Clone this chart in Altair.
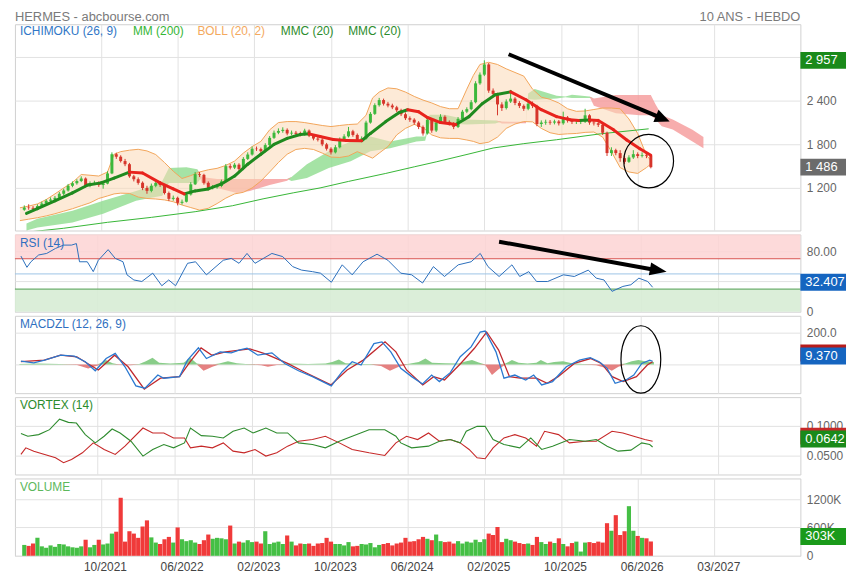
import altair as alt
import pandas as pd

# ---------------- texts / axis ----------------
TITLE_LEFT = "HERMES - abcbourse.com"
TITLE_RIGHT = "10 ANS - HEBDO"
X_TICKS = [37, 72, 107, 142, 177, 212, 247, 282, 317]
X_LABELS = ["10/2021", "06/2022", "02/2023", "10/2023", "06/2024",
            "02/2025", "10/2025", "06/2026", "03/2027"]
X_DOMAIN = [0, 354]

# ---------------- price candles (one every two weeks) ----------------
candle_w = list(range(2, 290, 2))
FIRST_OPEN = 900
candle_close = [930, 925, 914, 950, 985, 1023, 1040, 1064, 1120, 1165,
                1230, 1265, 1295, 1330, 1230, 1265, 1270, 1240, 1260, 1400,
                1664, 1630, 1570, 1527, 1360, 1320, 1270, 1200, 1160, 1230,
                1270, 1240, 1130, 1050, 1064, 995, 1010, 1110, 1250, 1390,
                1380, 1270, 1200, 1210, 1227, 1290, 1500, 1480, 1520, 1460,
                1600, 1660, 1740, 1735, 1705, 1790, 1890, 1960, 1985, 2000,
                1950, 1960, 1945, 1940, 1990, 1920, 1880, 1865, 1800, 1740,
                1690, 1760, 1870, 1910, 1980, 1930, 1865, 1880, 2100, 2220,
                2340, 2410, 2360, 2335, 2310, 2270, 2215, 2160, 2140, 2100,
                2040, 1950, 2140, 1990, 2100, 2180, 2110, 2086, 2040, 2150,
                2250, 2285, 2380, 2640, 2760, 2900, 2540, 2495, 2350, 2300,
                2390, 2430, 2370, 2330, 2290, 2360, 2330, 2080, 2100, 2110,
                2100, 2115, 2090, 2170, 2130, 2110, 2110, 2115, 2200, 2100,
                2090, 2070, 1960, 1680, 1720, 1680, 1610, 1560, 1620, 1665,
                1640, 1650, 1640, 1486]
candle_high = [960, 975, 950, 975, 1010, 1045, 1070, 1090, 1145, 1190,
               1255, 1290, 1320, 1360, 1345, 1290, 1300, 1290, 1285, 1430,
               1690, 1685, 1650, 1600, 1545, 1380, 1345, 1290, 1230, 1260,
               1300, 1295, 1255, 1150, 1095, 1080, 1040, 1135, 1280, 1420,
               1420, 1395, 1290, 1240, 1255, 1315, 1530, 1530, 1545, 1540,
               1625, 1690, 1770, 1770, 1755, 1815, 1915, 1990, 2020, 2035,
               2020, 1990, 1985, 1975, 2015, 2005, 1940, 1905, 1885, 1820,
               1760, 1790, 1895, 1940, 2040, 2000, 1950, 1910, 2125, 2245,
               2365, 2440, 2430, 2385, 2360, 2330, 2290, 2240, 2185, 2160,
               2120, 2060, 2165, 2160, 2130, 2215, 2200, 2130, 2105, 2175,
               2275, 2310, 2410, 2670, 2790, 2957, 2920, 2570, 2510, 2380,
               2420, 2550, 2450, 2395, 2350, 2385, 2390, 2345, 2130, 2140,
               2135, 2140, 2135, 2250, 2190, 2150, 2140, 2145, 2290, 2215,
               2130, 2115, 2085, 1975, 1760, 1740, 1720, 1640, 1650, 1720,
               1690, 1690, 1685, 1660]
candle_low = [885, 900, 890, 900, 935, 970, 1000, 1020, 1050, 1100,
              1150, 1210, 1245, 1280, 1205, 1210, 1240, 1215, 1190, 1250,
              1390, 1600, 1550, 1500, 1340, 1290, 1245, 1170, 1120, 1140,
              1210, 1215, 1110, 1020, 1025, 960, 970, 1000, 1095, 1240,
              1350, 1245, 1175, 1180, 1190, 1210, 1280, 1455, 1460, 1435,
              1445, 1585, 1645, 1710, 1680, 1690, 1775, 1875, 1940, 1960,
              1925, 1925, 1920, 1910, 1920, 1900, 1855, 1840, 1775, 1715,
              1660, 1675, 1745, 1850, 1895, 1905, 1840, 1840, 1865, 2085,
              2205, 2320, 2335, 2310, 2285, 2245, 2190, 2135, 2110, 2070,
              2010, 1920, 1935, 1960, 1970, 2085, 2085, 2060, 2010, 2025,
              2135, 2230, 2270, 2365, 2620, 2740, 2510, 2465, 2200, 2260,
              2280, 2370, 2340, 2300, 2260, 2270, 2300, 2050, 2040, 2070,
              2070, 2075, 2060, 2070, 2100, 2080, 2080, 2080, 2095, 2070,
              2060, 2040, 1930, 1640, 1640, 1650, 1560, 1530, 1545, 1600,
              1610, 1620, 1610, 1470]
volume_k = [230, 210, 260, 380, 200, 170, 220, 190, 250, 240,
            200, 180, 170, 200, 340, 180, 230, 340, 240, 260,
            470, 510, 1228, 300, 520, 470, 380, 620, 750, 390,
            280, 250, 350, 400, 280, 600, 350, 310, 330, 280,
            250, 330, 450, 360, 380, 370, 350, 640, 260, 300,
            280, 330, 290, 300, 260, 520, 250, 280, 300, 250,
            430, 300, 220, 260, 250, 260, 210, 260, 270, 380,
            300, 250, 250, 220, 290, 200, 210, 250, 240, 270,
            180, 230, 250, 270, 220, 260, 280, 380, 300, 310,
            350, 400, 360, 330, 450, 310, 290, 300, 260, 310,
            260, 300, 280, 340, 290, 350, 470, 440, 610, 290,
            360, 330, 300, 270, 250, 260, 230, 400, 290, 250,
            300, 270, 370, 250, 200, 270, 300, 90, 280, 290,
            270, 300, 280, 690, 530, 860, 440, 520, 1050, 530,
            420, 380, 370, 303]

# ---------------- moving averages ----------------
mmc_w = [3, 8, 16, 24, 31, 37, 43, 50, 56, 64, 70, 75, 80, 86, 92, 98, 104, 110, 116, 122,
         128, 132, 137, 143, 149, 156, 160, 167, 173, 177, 182, 186, 192, 199, 205, 211, 217,
         224, 231, 238, 245, 251, 255, 260, 264, 271, 277, 283, 288]
mmc_v = [850, 914, 1023, 1132, 1241, 1270, 1336, 1418, 1405, 1270, 1186, 1118, 1159, 1186,
         1255, 1364, 1527, 1664, 1800, 1882, 1936, 1945, 1909, 1868, 1854, 1850, 1950, 2114,
         2236, 2277, 2250, 2170, 2100, 2073, 2182, 2359, 2482, 2523, 2414, 2277, 2182, 2140,
         2128, 2135, 2130, 2000, 1860, 1740, 1650]
mm200_w = [6, 20, 40, 60, 80, 97, 111, 125, 137, 150, 167, 180, 190, 205, 216, 230, 245, 265, 287]
mm200_v = [600, 645, 727, 795, 873, 955, 1050, 1134, 1200, 1290, 1400, 1491, 1559, 1668,
           1750, 1810, 1864, 1945, 2014]

# ---------------- Bollinger (20, 2) ----------------
boll_w = [0, 4, 8, 12, 16, 20, 24, 28, 32, 36, 40, 43, 46, 50, 54, 58, 62, 66, 70, 74, 78,
          82, 86, 90, 94, 98, 102, 106, 110, 114, 118, 122, 126, 130, 134, 138, 142, 146,
          150, 154, 158, 161, 164, 168, 172, 176, 180, 184, 188, 192, 196, 200, 204, 207,
          210, 214, 218, 222, 226, 230, 234, 238, 242, 246, 250, 254, 258, 262, 266, 270,
          274, 278, 282, 286, 288]
boll_up = [927, 950, 980, 1040, 1118, 1200, 1275, 1385, 1375, 1364, 1420, 1664, 1700,
           1720, 1732, 1710, 1660, 1550, 1430, 1330, 1370, 1420, 1450, 1470, 1510, 1570,
           1680, 1770, 1841, 2000, 2100, 2114, 2114, 2100, 2080, 2060, 2045, 2060, 2073,
           2080, 2200, 2440, 2520, 2577, 2565, 2520, 2460, 2410, 2370, 2320, 2291, 2291,
           2560, 2750, 2900, 2930, 2900, 2840, 2790, 2740, 2560, 2450, 2420, 2370, 2290,
           2255, 2260, 2280, 2300, 2300, 2290, 2150, 1950, 1650, 1580]
boll_dn = [750, 770, 790, 815, 845, 880, 914, 955, 995, 1055, 1090, 1118, 1128,
           1125, 1075, 1055, 1048, 1035, 1010, 965, 930, 895, 920, 985, 1060, 1118,
           1140, 1200, 1295, 1420, 1550, 1664, 1730, 1745, 1730, 1680, 1625, 1620, 1640,
           1700, 1650, 1610, 1680, 1770, 1930, 2020, 2075, 2030, 1930, 1890, 1882, 1882,
           1860, 1841, 1810, 1830, 1900, 2020, 2080, 2114, 2110, 2020, 1960, 1936, 1945,
           1950, 1965, 1970, 1900, 1700, 1480, 1420, 1400, 1480, 1530]

# ---------------- Ichimoku cloud (span A / span B) ----------------
cloud_w = [3, 8, 24, 38, 53, 60, 65, 68, 76, 81, 83, 90, 99, 105, 114, 122, 124, 131, 141,
           151, 160, 169, 181, 185, 187, 194, 204, 217, 220, 228, 231, 232, 235, 245, 249,
           252, 260, 262, 272, 283, 288, 290, 293, 298, 307, 312]
cloud_a = [709, 777, 886, 1023, 1159, 1227, 1295, 1473, 1486, 1459, 1268, 1200, 1132, 1159,
           1241, 1300, 1350, 1527, 1705, 1841, 1909, 1841, 1909, 1909, 2209, 2209, 2141, 2127,
           2086, 2090, 2090, 2500, 2564, 2470, 2460, 2482, 2460, 2330, 2230, 2200, 2200, 2150,
           2050, 2005, 1841, 1745]
cloud_b = [614, 655, 723, 845, 1023, 1064, 1091, 1268, 1268, 1268, 1350, 1323, 1323, 1323,
           1323, 1323, 1295, 1336, 1473, 1568, 1705, 1745, 1841, 1850, 2086, 2086, 2073, 2086,
           2114, 2110, 2110, 2420, 2414, 2430, 2450, 2440, 2440, 2430, 2480, 2480, 2480, 2360,
           2200, 2141, 2000, 1900]

# ---------------- RSI (14) ----------------
rsi_w = [2.7, 5.4, 7.2, 10.7, 14.3, 18.3, 21.9, 25.5, 27.7, 29.1, 32.6, 35.3, 37.6, 42, 45.2,
         48.7, 50.5, 53.6, 57.2, 62.1, 66.2, 69.3, 72.4, 77.8, 81.4, 86.3, 93.9, 97.5, 101,
         104.6, 108.2, 115.8, 120.7, 125.2, 129.2, 134.1, 137.7, 142.6, 147.5, 152, 156.9,
         163.2, 168.1, 173.9, 178.8, 183.7, 188.6, 193.6, 199.8, 205.6, 209.7, 213.2, 218.2,
         224, 227.5, 231.6, 235.1, 240.1, 247.2, 252.1, 258.4, 262, 265.5, 269.1, 274, 277.6,
         281.2, 285.2, 287.4]
rsi_v = [73.5, 58.7, 66, 75, 77, 83.6, 88, 88, 90, 66, 66, 53, 68, 82, 70.5, 66, 48.8, 42, 40,
         51, 34.4, 42, 34.4, 64, 66, 48.8, 68, 70.5, 64, 77, 64, 77, 72.8, 59.6, 55, 53, 51,
         39, 62, 48.8, 66, 76, 68, 51, 48.8, 38, 59.6, 46.6, 62, 66, 77, 59.6, 46.6, 62, 46.6,
         53, 40, 40, 48.8, 46.6, 55, 44.4, 42, 27, 33.5, 35.7, 44.4, 40, 32.4]

# ---------------- MACD (12, 26, 9) ----------------
macd_w = [2.7, 8.5, 13.4, 20.6, 26.8, 31.7, 36.2, 41.1, 45.2, 49.6, 54.5, 58.6, 64.4, 67.1,
          74.2, 77.8, 82.7, 86.3, 92.5, 97.5, 101, 104.6, 109.5, 115.8, 121.6, 127.8, 134.1,
          142.6, 147.5, 152, 156, 161.8, 165.4, 169.4, 173.9, 178.8, 183.7, 187.8, 191.3,
          196.2, 200.7, 205.6, 209.7, 211.9, 216.8, 220.4, 225.3, 230.2, 233.8, 237.4, 242.3,
          248.5, 254.4, 259.3, 263.3, 266.9, 270.5, 275.4, 278.9, 282.5, 286.1, 287.4]
macd_v = [21, 10, 27, 58, 52, 17, -40, 37, 69, -15, -135, -150, -67, -87, -77, 27, 104, 37,
          79, 73, 90, 102, 58, 73, 6, -40, -77, -135, -46, 17, -4, 131, 142, 79, -25, -77,
          -123, -67, -108, -52, 48, 110, 204, 210, 79, -87, -67, -98, -67, -129, -108, -15,
          27, 42, 17, -25, -119, -98, -67, 6, 27, 20]
sig_w = [2.7, 13.2, 20.6, 27.9, 32.7, 37.6, 44.9, 51, 58.3, 65.6, 74.2, 79, 83.9, 88.8, 94.9,
         105.9, 113.2, 122.9, 130.2, 142.4, 149.7, 157, 166.8, 171.7, 176.5, 183.8, 188.7,
         193.6, 200.9, 207, 212.6, 218, 222.9, 227.7, 235, 239.9, 244.8, 252.1, 259.4, 264.3,
         269.2, 274.1, 280.1, 285, 287.4]
sig_v = [17, 27, 58, 48, 6, -35, 58, -15, -156, -87, -77, 17, 104, 58, 79, 98, 65, 6, -46,
         -129, -35, 27, 142, 79, -35, -129, -77, -98, 6, 100, 204, 90, -77, -87, -87, -119,
         -77, 6, 37, 6, -77, -108, -77, -4, 17]
hist_w = [2, 10, 20, 28, 33, 37, 39, 41, 44, 47, 52, 56, 59, 62, 65, 70, 76, 79, 82, 85, 89,
          92, 96, 100, 104, 111, 114, 118, 124, 132, 140, 143, 146, 149, 155, 160, 165, 169,
          173, 177, 182, 185, 188, 194, 200, 203, 206, 209, 212, 215, 218, 221, 224, 227, 231,
          235, 237, 240, 243, 247, 251, 256, 262, 267, 269, 272, 275, 278, 281, 284, 288]
hist_v = [3, 5, 2, -3, -25, -8, 10, 27, 8, -3, -5, 2, 20, 42, 10, 5, 10, 42, 5, -40, -15, 5,
          20, 8, 3, -5, -15, -3, 5, 3, 5, 15, 31, 8, 3, 3, -10, -40, -15, 3, 15, 37, 10, 8, 5,
          18, 27, 12, -5, -67, -30, 5, 27, 10, 5, 10, 27, 8, 15, 20, 8, 3, -5, -25, -40, -15,
          5, 20, 27, 20, 15]

# ---------------- Vortex (14) ----------------
vip_w = [2.7, 5.8, 10.7, 15.6, 20.1, 24.1, 27.7, 31.7, 36.2, 40.2, 43.8, 47.4, 52.3, 57.7,
         62.1, 67.1, 71.5, 76.4, 79.1, 84, 89, 93.9, 98.3, 103.3, 107.3, 113.1, 118, 122.9,
         127.8, 134.1, 139.9, 146.2, 152, 159.6, 166.7, 171.7, 173.9, 178.8, 186.4, 191.3,
         196.2, 200.7, 203.4, 208.3, 211.9, 215.5, 220.4, 227.5, 232.5, 237.4, 242.3, 249.9,
         257, 262, 266.9, 271.8, 277.6, 282.5, 286.1, 287.4]
vip_v = [.0867, .0822, .085, .0933, .111, .1056, .1044, .085, .0711, .0822, .0944, .0878,
         .0739, .0489, .06, .0683, .0628, .0711, .0961, .0833, .0822, .0794, .0906, .0961,
         .0878, .0961, .0878, .0878, .0711, .0683, .0628, .0739, .0822, .0933, .0933, .0822,
         .0711, .0628, .0656, .0739, .0767, .0711, .0906, .0989, .0989, .0767, .0683, .0628,
         .0794, .06, .0656, .0767, .0739, .0767, .0656, .0572, .0589, .0711, .0683, .0642]
vim_w = [2.7, 4.9, 8.5, 13.4, 18.3, 21.9, 25.5, 30.4, 35.3, 40.2, 45.2, 49.6, 57.7, 62.1,
         67.1, 71.5, 76.4, 79.1, 84, 89, 93.9, 98.3, 103.3, 108.2, 113.1, 118, 122.9, 127.8,
         134.1, 139.9, 146.2, 152, 159.6, 166.7, 171.7, 176.5, 181.5, 186.4, 191.3, 196.2,
         200.7, 204.7, 208.3, 211.9, 215.5, 220.4, 225.3, 230.2, 235.1, 238.7, 245, 249.9,
         257, 262, 269.1, 274, 278.9, 283.9, 287.4]
vim_v = [.0517, .0628, .0572, .0517, .0461, .0378, .0433, .0544, .0711, .06, .0517, .0656,
         .0961, .0878, .0878, .0794, .0794, .0628, .0656, .0628, .0711, .0572, .0544, .06,
         .0489, .0544, .0656, .0739, .0767, .0822, .0711, .06, .0544, .05, .0711, .0822,
         .0767, .0878, .0739, .0767, .0711, .06, .0461, .0444, .0628, .0794, .085, .0794,
         .0656, .0906, .085, .0711, .0739, .0739, .0906, .0878, .0822, .0767, .0739]

# ---------------- annotations (data units) ----------------
arrow_main = dict(w=223.1, v=3041, w2=291.9, v2=2176, tip_w=296.6, tip_v=2114)
arrow_rsi = dict(w=218.2, v=92.5, w2=287.5, v2=55.9, tip_w=293.7, tip_v=52.7)
circle_main = dict(w=287, v=1570)
ellipse_macd = dict(w=282.1, v=31)
LAST_HIGH, LAST_CLOSE, LAST_RSI, LAST_MACD, LAST_VI, LAST_VOL = 2957, 1486, 32.407, 9.37, 0.0642, 303000

# ======================================================================
GREEN_C, RED_C = "#3cb83c", "#d6352b"
FONT = "Arial"
W, H_MAIN, H_SUB = 792, 208, 78
BOX_X, TXT_X, BOX_SIZE = 815, 797, 2116

label_expr = " : ".join(f"datum.value == {t} ? '{l}'" for t, l in zip(X_TICKS, X_LABELS)) + " : ''"


def X(show=False):
    kw = dict(values=X_TICKS, title=None, grid=True, ticks=False, domain=False, labels=show)
    if show:
        kw.update(labelExpr=label_expr, labelPadding=6, labelOffset=4, labelColor="#444",
                  labelFontSize=12)
    return alt.X("w:Q", scale=alt.Scale(domain=X_DOMAIN, nice=False, zero=False), axis=alt.Axis(**kw))


def Yenc(domain, values, expr):
    return alt.Y("v:Q", scale=alt.Scale(domain=domain, nice=False, zero=False),
                 axis=alt.Axis(orient="right", values=values, labelExpr=expr, title=None,
                               ticks=False, domain=False, labelPadding=6, grid=True))


def one(**kw):
    return pd.DataFrame({k: [v] for k, v in kw.items()})


def label(text, color, xpx, ypx, size=12, align="left"):
    return alt.Chart(one(a=0)).mark_text(text=text, color=color, font=FONT, fontSize=size,
                                         align=align, baseline="middle").encode(
        x=alt.value(xpx), y=alt.value(ypx))


BOX = "M-1,-0.37L1,-0.37L1,0.37L-1,0.37Z"


def value_box(Y, value, color, text, yoff=0):
    d = one(v=value)
    box = alt.Chart(d).mark_point(shape=BOX, size=BOX_SIZE, filled=True, color=color, opacity=1,
                                  yOffset=yoff).encode(x=alt.value(BOX_X), y=Y)
    txt = alt.Chart(d).mark_text(text=text, align="left", baseline="middle", color="white",
                                 font=FONT, fontSize=13, yOffset=yoff).encode(x=alt.value(TXT_X), y=Y)
    return [box, txt]


def arrow(Y, a, head_shape, head_size, angle):
    shaft = alt.Chart(one(w=a["w"], v=a["v"], w2=a["w2"], v2=a["v2"])).mark_rule(
        color="black", strokeWidth=4).encode(x=X(), y=Y, x2="w2:Q", y2="v2:Q")
    head = alt.Chart(one(w=a["tip_w"], v=a["tip_v"])).mark_point(
        shape=head_shape, size=head_size, angle=angle, filled=True, color="black",
        opacity=1).encode(x=X(), y=Y)
    return [shaft, head]


# ---------------- main panel ----------------
YM = Yenc([614, 3454], [1200, 1800, 2400, 3000], "replace(format(datum.value, ','), ',', ' ')")

cd = pd.DataFrame({"w": candle_w, "c": candle_close, "h": candle_high, "l": candle_low,
                   "vol": [v * 1000 for v in volume_k]})
cd["o"] = [FIRST_OPEN] + candle_close[:-1]
cd["up"] = cd["c"] >= cd["o"]

cl = pd.DataFrame({"w": cloud_w, "a": cloud_a, "b": cloud_b})
cl["top"] = cl[["a", "b"]].max(axis=1)
cloud_g = alt.Chart(cl.assign(v=cl["top"], v2=cl["b"])).mark_area(
    color="#8fdc8f", opacity=0.8).encode(x=X(), y=YM, y2="v2:Q")
cloud_r = alt.Chart(cl.assign(v=cl["top"], v2=cl["a"])).mark_area(
    color="#f59999", opacity=0.8).encode(x=X(), y=YM, y2="v2:Q")

bd = pd.DataFrame({"w": boll_w, "v": boll_up, "v2": boll_dn})
boll_area = alt.Chart(bd).mark_area(color="#fcd8b6", opacity=0.55).encode(x=X(), y=YM, y2="v2:Q")
boll_u = alt.Chart(bd).mark_line(color="#f2a55a", strokeWidth=1).encode(x=X(), y=YM)
boll_d = alt.Chart(bd.assign(v=bd["v2"])).mark_line(color="#f2a55a", strokeWidth=1).encode(x=X(), y=YM)

mm200 = alt.Chart(pd.DataFrame({"w": mm200_w, "v": mm200_v})).mark_line(
    color="#36b536", strokeWidth=1, clip=True).encode(x=X(), y=YM)

layers = [cloud_g, cloud_r, boll_area, boll_u, boll_d, mm200]
for is_up, col in [(True, GREEN_C), (False, RED_C)]:
    sub = cd[cd["up"] == is_up]
    layers.append(alt.Chart(sub.assign(v=sub["l"], v2=sub["h"])).mark_rule(
        color=col, strokeWidth=1).encode(x=X(), y=YM, y2="v2:Q"))
    layers.append(alt.Chart(sub.assign(v=sub["o"], v2=sub["c"])).mark_bar(
        color=col, size=3).encode(x=X(), y=YM, y2="v2:Q"))

md = pd.DataFrame({"w": mmc_w[:-1], "w2": mmc_w[1:], "v": mmc_v[:-1], "v2": mmc_v[1:]})
md["rise"] = md["v2"] >= md["v"]
for is_up, col in [(True, "#1f8a1f"), (False, "#e8231d")]:
    layers.append(alt.Chart(md[md["rise"] == is_up]).mark_rule(
        color=col, strokeWidth=3, strokeCap="round").encode(x=X(), y=YM, x2="w2:Q", y2="v2:Q"))

layers += [
    label(TITLE_LEFT, "#7a7a7a", 0, -7, 13),
    label(TITLE_RIGHT, "#7a7a7a", W, -7, 13, "right"),
    label("ICHIMOKU (26, 9)", "#2f76c6", 5, 7),
    label("MM (200)", "#35b635", 119, 7),
    label("BOLL (20, 2)", "#f4a95e", 184, 7),
    label("MMC (20)", "#2c8c2c", 268, 7),
    label("MMC (20)", "#2c8c2c", 336, 7),
]
layers += arrow(YM, arrow_main, "M0,0L-1,-0.45L-1,0.45Z", 900, 22.7)
layers.append(alt.Chart(one(**circle_main)).mark_point(
    shape="M-0.93,0A0.93,1,0,1,0,0.93,0A0.93,1,0,1,0,-0.93,0Z", size=2916, filled=False,
    color="black", strokeWidth=1.2, opacity=1).encode(x=X(), y=YM))
layers += value_box(YM, LAST_HIGH, "#1a8a1a", "2 957")
layers += value_box(YM, LAST_CLOSE, "#6b6b6b", "1 486")
main = alt.layer(*layers).properties(width=W, height=H_MAIN)

# ---------------- RSI panel ----------------
YR = Yenc([0, 102], [0, 40, 80], "datum.value == 80 ? '80.00' : datum.value == 0 ? '0' : ''")
rsi_layers = [
    alt.Chart(one(v=70, v2=102)).mark_rect(color="#fdd3d3", opacity=0.85).encode(y=YR, y2="v2:Q"),
    alt.Chart(one(v=0, v2=30)).mark_rect(color="#d7ecd5", opacity=0.9).encode(y=YR, y2="v2:Q"),
    alt.Chart(one(v=70)).mark_rule(color="#d9534f", strokeWidth=1).encode(y=YR),
    alt.Chart(one(v=50)).mark_rule(color="#9cc3e6", strokeWidth=1).encode(y=YR),
    alt.Chart(one(v=30)).mark_rule(color="#4e9e4e", strokeWidth=1).encode(y=YR),
    alt.Chart(pd.DataFrame({"w": rsi_w, "v": rsi_v})).mark_line(
        color="#2a6ebb", strokeWidth=1).encode(x=X(), y=YR),
    label("RSI (14)", "#2f6fc0", 5, 9),
]
rsi_layers += arrow(YR, arrow_rsi, "M0,0L-1,-0.38L-1,0.38Z", 1156, 10.2)
rsi_layers += value_box(YR, LAST_RSI, "#1565c0", "32.407", -5)
rsi = alt.layer(*rsi_layers).properties(width=W, height=H_SUB)

# ---------------- MACD panel ----------------
YD = Yenc([-181, 306], [0, 200], "datum.value == 200 ? '200.0' : ''")
hd = pd.DataFrame({"w": hist_w, "h": hist_v})
macd_layers = [
    alt.Chart(hd.assign(v=hd["h"].clip(lower=0), v2=0)).mark_area(
        color="#74c474", opacity=0.85).encode(x=X(), y=YD, y2="v2:Q"),
    alt.Chart(hd.assign(v=hd["h"].clip(upper=0), v2=0)).mark_area(
        color="#e06b6b", opacity=0.85).encode(x=X(), y=YD, y2="v2:Q"),
    alt.Chart(pd.DataFrame({"w": sig_w, "v": sig_v})).mark_line(
        color="#c0282d", strokeWidth=1.3).encode(x=X(), y=YD),
    alt.Chart(pd.DataFrame({"w": macd_w, "v": macd_v})).mark_line(
        color="#2a78d0", strokeWidth=1.3).encode(x=X(), y=YD),
    label("MACDZL (12, 26, 9)", "#2f6fc0", 5, 8),
    alt.Chart(one(**ellipse_macd)).mark_point(
        shape="M-0.59,0A0.59,1,0,1,0,0.59,0A0.59,1,0,1,0,-0.59,0Z", size=4624, filled=False,
        color="black", strokeWidth=1.2, opacity=1).encode(x=X(), y=YD),
]
macd_layers += value_box(YD, LAST_MACD, "#b71c1c", "", -10)
macd_layers += value_box(YD, LAST_MACD, "#1565c0", "9.370", -7)
macd = alt.layer(*macd_layers).properties(width=W, height=H_SUB)

# ---------------- Vortex panel ----------------
YV = Yenc([0.018, 0.148], [0.05, 0.1], "format(datum.value, '.4f')")
vx_layers = [
    alt.Chart(pd.DataFrame({"w": vim_w, "v": vim_v})).mark_line(
        color="#c62828", strokeWidth=1.1).encode(x=X(), y=YV),
    alt.Chart(pd.DataFrame({"w": vip_w, "v": vip_v})).mark_line(
        color="#2e8b2e", strokeWidth=1.1).encode(x=X(), y=YV),
    label("VORTEX (14)", "#2c8c2c", 5, 8),
]
vx_layers += value_box(YV, LAST_VI, "#c62828", "", -11)
vx_layers += value_box(YV, LAST_VI, "#1a8a1a", "0.0642", -8)
vortex = alt.layer(*vx_layers).properties(width=W, height=H_SUB)

# ---------------- Volume panel ----------------
YL = Yenc([0, 1637000], [0, 600000, 1200000],
          "datum.value == 0 ? '0' : format(datum.value / 1000, 'd') + 'K'")
vol_layers = []
for is_up, col in [(True, "#45bf45"), (False, "#f03a3a")]:
    sub = cd[cd["up"] == is_up]
    vol_layers.append(alt.Chart(sub.assign(v=sub["vol"])).mark_bar(
        color=col, size=4.2).encode(x=X(True), y=YL))
vol_layers.append(label("VOLUME", "#5cb85c", 5, 9))
vol_layers += value_box(YL, LAST_VOL, "#1a9a1a", "303K", -5)
volume = alt.layer(*vol_layers).properties(width=W, height=H_SUB)

chart = alt.vconcat(main, rsi, macd, vortex, volume, spacing=4, bounds="flush").resolve_scale(
    x="independent", y="independent").properties(
    padding={"left": 6, "top": 0, "right": 0, "bottom": 0}, background="white"
).configure_view(stroke="#d0d0d0", strokeWidth=1).configure_axis(
    gridColor="#e2e2e2", labelColor="#666", labelFont=FONT, labelFontSize=12)

chart.save("out.html", embed_options={"renderer": "svg", "actions": False})
